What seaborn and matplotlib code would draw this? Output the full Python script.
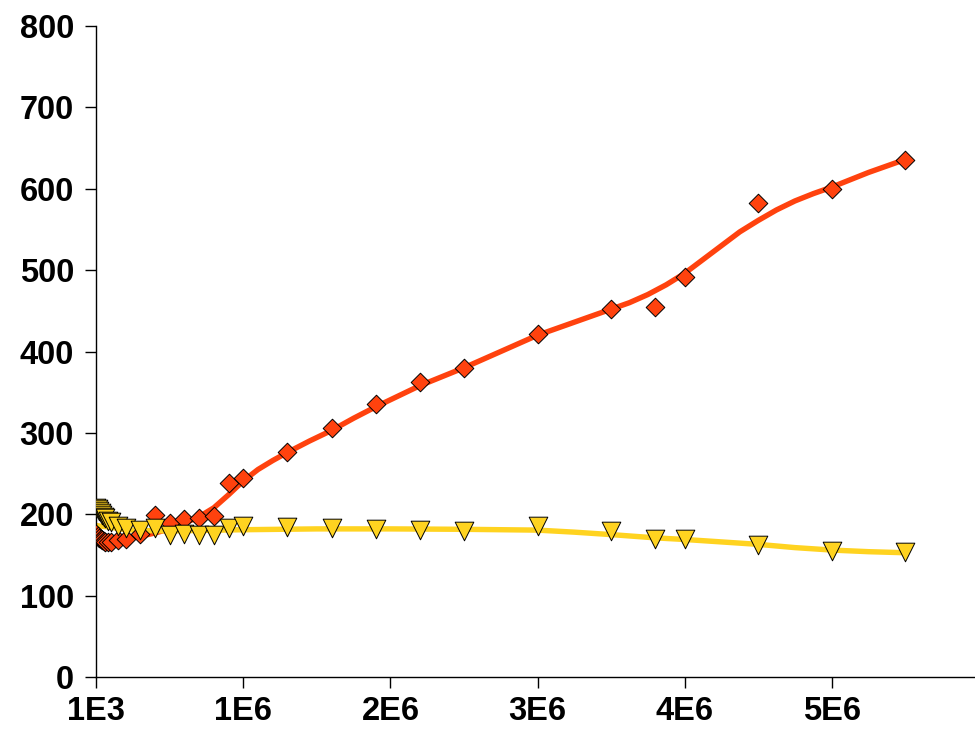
import matplotlib
matplotlib.use("Agg")
import matplotlib.pyplot as plt
import seaborn as sns
import pandas as pd

# Measured points
x_pts = [1e3, 1e4, 2e4, 3e4, 4e4, 5e4, 6e4, 8e4, 1e5, 1.5e5, 2e5, 3e5,
         4e5, 5e5, 6e5, 7e5, 8e5, 9e5, 1e6, 1.3e6, 1.6e6, 1.9e6, 2.2e6,
         2.5e6, 3e6, 3.5e6, 3.8e6, 4e6, 4.5e6, 5e6, 5.5e6]
red_pts = [176, 173, 171, 169, 168, 167, 166, 166, 166, 168, 170, 176,
           199, 189, 194, 195, 198, 238, 245, 276, 306, 335, 363,
           380, 422, 452, 455, 491, 582, 600, 635]
yellow_pts = [208, 206, 204, 201, 199, 197, 195, 192, 190, 186, 183, 181,
              183, 175, 176, 175, 175, 183, 185, 184, 183, 182, 180.5,
              180, 186, 180, 170, 170, 162.5, 155, 153]

# Smoothed trend curves
red_fit_x = [1e3, 1e5, 2e5, 3e5, 4e5, 5e5, 6e5, 7e5, 8e5, 9e5, 1e6,
             1.1e6, 1.2e6, 1.3e6, 1.45e6, 1.6e6, 1.75e6, 1.9e6, 2.05e6,
             2.2e6, 2.35e6, 2.5e6, 2.625e6, 2.75e6, 2.875e6, 3e6, 3.125e6,
             3.25e6, 3.375e6, 3.5e6, 3.625e6, 3.75e6, 3.875e6, 4e6,
             4.125e6, 4.25e6, 4.375e6, 4.5e6, 4.625e6, 4.75e6, 4.875e6,
             5e6, 5.125e6, 5.25e6, 5.375e6, 5.5e6]
red_fit_y = [168, 168, 170, 173, 177, 182, 189, 197, 208, 224, 241,
             255, 266, 276, 290, 303, 318, 332, 345,
             358, 369, 380, 390, 400, 410, 420, 428,
             436, 444, 452, 460, 470, 482, 496,
             513, 530, 547, 561, 574, 585, 594,
             602, 611, 620, 628, 636]
yellow_fit_x = [1e3, 1e5, 2e5, 3e5, 5e5, 1e6, 1.5e6, 2e6, 2.5e6, 3e6,
                3.25e6, 3.5e6, 3.8e6, 4e6, 4.25e6, 4.5e6, 4.75e6, 5e6,
                5.25e6, 5.5e6]
yellow_fit_y = [186, 184, 181, 180, 179.5, 181, 182, 182, 181.5, 180.5,
                178, 175, 171, 169, 166, 163, 159, 156,
                154, 152.7]

x_ticks = [1e3, 1e6, 2e6, 3e6, 4e6, 5e6]
x_tick_labels = ["1E3", "1E6", "2E6", "3E6", "4E6", "5E6"]
y_ticks = [0, 100, 200, 300, 400, 500, 600, 700, 800]

RED = "#ff420e"
YELLOW = "#ffd320"

sns.set_theme(style="white")
plt.rcParams["font.family"] = ["Liberation Sans", "DejaVu Sans"]

fig = plt.figure(figsize=(9.75, 7.31), dpi=100)
ax = fig.add_axes([96.2 / 975, 54 / 731, 882.6 / 975, 651 / 731])

pts = pd.DataFrame({"x": x_pts, "red": red_pts, "yellow": yellow_pts})
red_fit = pd.DataFrame({"x": red_fit_x, "y": red_fit_y})
yellow_fit = pd.DataFrame({"x": yellow_fit_x, "y": yellow_fit_y})

line_kw = dict(lw=3.9, estimator=None, sort=False, zorder=2)
sns.lineplot(data=red_fit, x="x", y="y", ax=ax, color=RED, **line_kw)
sns.lineplot(data=yellow_fit, x="x", y="y", ax=ax, color=YELLOW, **line_kw)
for line in ax.get_lines():
    line.set_solid_joinstyle("round")
    line.set_solid_capstyle("round")

sns.scatterplot(data=pts, x="x", y="red", ax=ax, marker="D", s=90,
                color=RED, edgecolor="black", linewidth=0.7, zorder=3)
sns.scatterplot(data=pts, x="x", y="yellow", ax=ax, marker="v", s=180,
                color=YELLOW, edgecolor="black", linewidth=0.7, zorder=4)

ax.set_xlim(0, 6e6)
ax.set_ylim(0, 800)
ax.set_xticks(x_ticks)
ax.set_xticklabels(x_tick_labels)
ax.set_yticks(y_ticks)
ax.set_xlabel("")
ax.set_ylabel("")

for side in ("top", "right"):
    ax.spines[side].set_visible(False)
for side in ("left", "bottom"):
    ax.spines[side].set_color("black")
    ax.spines[side].set_linewidth(1.0)

ax.tick_params(axis="both", which="major", direction="out", length=8,
               width=1.0, color="black", labelsize=23.5,
               bottom=True, left=True)
ax.tick_params(axis="x", pad=6)
ax.tick_params(axis="y", pad=8)
for lab in ax.get_xticklabels() + ax.get_yticklabels():
    lab.set_fontweight("bold")
    lab.set_color("black")

fig.savefig("out.png", dpi=100)
